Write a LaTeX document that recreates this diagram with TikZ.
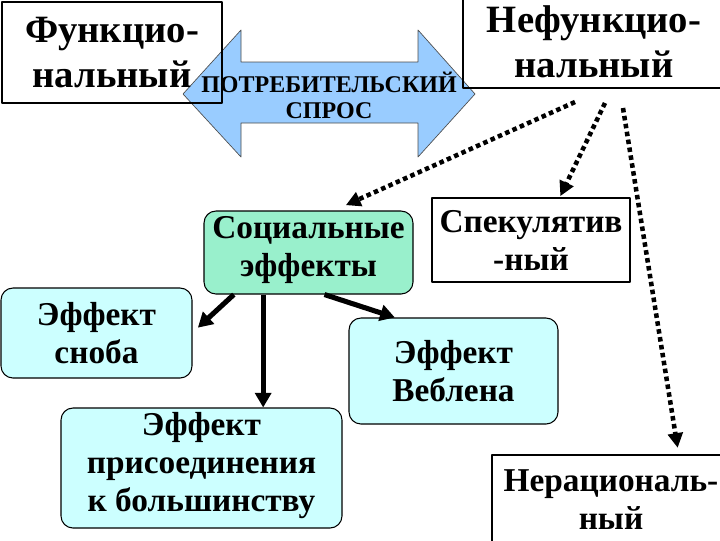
\documentclass[tikz,border=0pt]{standalone}
\usepackage{fontspec}
\setmainfont{Liberation Serif}
\usetikzlibrary{arrows.meta}
\definecolor{strelka}{HTML}{99CCFF}
\definecolor{myata}{HTML}{99F0CC}
\definecolor{goluboj}{HTML}{CCFFFF}
\begin{document}
\begin{tikzpicture}[x=0.75pt,y=-0.75pt, line join=round,
	ramka/.style={draw, line width=0.8pt, align=center, inner sep=0pt, font=\fontsize{25}{28.5}\selectfont\bfseries},
	zagolovok/.style={ramka, font=\fontsize{29}{34}\selectfont\bfseries},
	effekt/.style={ramka, rounded corners=9pt, fill=goluboj},
	tochki/.style={line width=3.4pt, dash pattern=on 3.4pt off 2.6pt, -{Triangle[length=11pt,width=11pt]}},
	linija/.style={line width=3.8pt, -{Triangle[length=11pt,width=12pt]}}]
				\useasboundingbox (0,0) rectangle (720,540);
				\draw[fill=strelka, draw=black!70, line width=0.5pt] (183,94)--(241,30)--(241,62)--(418,62)--(418,30)--(475,94)--(418,157)--(418,123)--(241,123)--(241,157)--cycle;
				\node (spros) at (329,95.5) [align=center, font=\fontsize{18}{19}\selectfont\bfseries] {ПОТРЕБИТЕЛЬСКИЙ\\СПРОС};
				\node (funk) at (112,52.5) [zagolovok, minimum width=165pt, minimum height=75.75pt] {Функцио-\\нальный};
				\node (nefunk) at (594,42) [zagolovok, minimum width=196.5pt, minimum height=69pt] {Нефункцио-\\нальный};
				\node (soc) at (308.5,252.5) [ramka, rounded corners=9pt, fill=myata, minimum width=156.75pt, minimum height=62.25pt] {Социальные\\эффекты\strut};
				\node (spek) at (531,240) [ramka, minimum width=148.5pt, minimum height=63pt] {Спекулятив\\-ный};
				\node (snob) at (96.5,333) [effekt, minimum width=143.25pt, minimum height=67.5pt] {Эффект\\сноба};
				\node (vebl) at (453.5,371) [effekt, minimum width=156.75pt, minimum height=79.5pt] {Эффект\\Веблена};
				\node (prisoed) at (201.5,468) [effekt, minimum width=210.75pt, minimum height=90pt] {Эффект\\присоединения\\к большинству\strut};
				\node (nerac) at (611,500) [ramka, minimum width=178.5pt, minimum height=67.5pt] {Нерациональ-\\ный};
				\coordinate (n1) at (575,102); \coordinate (n2) at (605,103); \coordinate (n3) at (623,108);
				\draw[tochki] (n1)--([xshift=28pt,yshift=4pt]soc.north);
				\draw[tochki] (n2)--([xshift=22pt,yshift=1pt]spek.north);
				\draw[tochki] (n3)--([xshift=50pt,yshift=5pt]nerac.north);
				\draw[linija] ([xshift=-56pt]soc.south)--([xshift=4pt,yshift=4pt]snob.east);
				\draw[linija] ([xshift=-34pt]soc.south)--([xshift=-34pt]soc.south |- prisoed.north);
				\draw[linija] ([xshift=12pt]soc.south)--([xshift=-44pt]vebl.north);
			\end{tikzpicture}
\end{document}
